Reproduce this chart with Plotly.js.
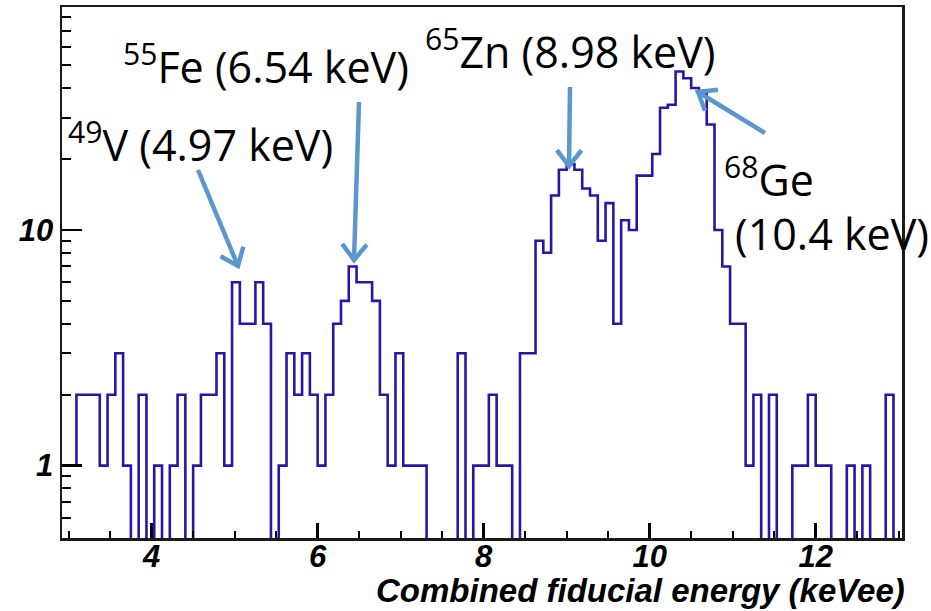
<!DOCTYPE html>
<html>
<head>
<meta charset="utf-8">
<script src="https://cdn.plot.ly/plotly-3.0.1.min.js"></script>
<style>html,body{margin:0;padding:0;background:#fff;}#chart{width:931px;height:611px;}</style>
</head>
<body>
<div id="chart"></div>
<script>
// Histogram bins (keVee): first bin low edge and constant bin width
const binStart = 2.90625;
const binWidth = 0.09375;
// Counts per bin
const counts = [1,1,
  2,2,2,1,2,3,1,0,2,0,1,0,1,2,0,1,2,2,3,1,6,4,4,6,4,0,1,3,2,3,2,
  1,2,4,5,7,6,6,5,2,1,3,1,1,1,0,0,0,0,3,0,1,1,2,1,1,0,3,3,
  9,8,14,18,19,18,15,14,9,13,4,11,10,
  17,17,21,33,34,47,44,40,38,28,10,7,
  4,4,1,2,0,2,0,0,1,1,2,1,1,0,0,1,0,1,0,0,2,0];

const xTickVals = [4, 6, 8, 10, 12];
const yTickVals = [1, 10];
const yTickText = ['1', '10'];
const yMinorVals = [0.6,0.7,0.8,0.9,2,3,4,5,6,7,8,9,20,30,40,50,60,70,80];

// Peak labels: text and arrow (tail -> tip) in pixel positions of the page
const labels = [
  {text:'<sup>49</sup>V (4.97 keV)', x:66, y:142, tail:[198,170], tip:[238,266]},
  {text:'<sup>55</sup>Fe (6.54 keV)', x:121, y:64, tail:[359,102], tip:[354,260]},
  {text:'<sup>65</sup>Zn (8.98 keV)', x:423, y:50, tail:[570,87], tip:[569,166]},
  {text:'<sup>68</sup>Ge', x:722, y:177, tail:[765,133], tip:[698,92]},
  {text:'(10.4 keV)', x:733, y:233, tail:null, tip:null}
];

const W = 931, H = 611;
const M = {l:62, r:29, t:7, b:73};
const PW = W - M.l - M.r, PH = H - M.t - M.b;
const pxX = p => (p - M.l) / PW;
const pxY = p => (H - M.b - p) / PH;

// step outline
const xs = [], ys = [];
const floor = 0.1; // zero-count bins drop below the axis floor
for (let i = 0; i < counts.length; i++) {
  xs.push(binStart + i * binWidth);
  ys.push(counts[i] > 0 ? counts[i] : floor);
}
xs.push(binStart + counts.length * binWidth);
ys.push(ys[ys.length - 1]);

const trace = {
  x: xs, y: ys, type: 'scatter', mode: 'lines',
  line: {shape: 'hv', color: '#2b14a8', width: 2.6},
  hoverinfo: 'skip', showlegend: false
};

const annotations = labels.map(l => ({
  text: l.text, xref: 'paper', yref: 'paper', x: pxX(l.x), y: pxY(l.y),
  xanchor: 'left', yanchor: 'middle', showarrow: false,
  font: {family: 'Open Sans', size: 43, color: '#000'}
}));
annotations.push({
  text: 'Combined fiducial energy (keVee)', xref: 'paper', yref: 'paper',
  x: pxX(907), y: pxY(590), xanchor: 'right', yanchor: 'middle', showarrow: false,
  font: {family: 'Liberation Sans', size: 33, weight: 'bold', style: 'italic', color: '#000'}
});

const arrowColor = '#5b96cf';
const shapes = [];
labels.forEach(l => {
  if (!l.tail) return;
  const [tx, ty] = l.tail, [hx, hy] = l.tip;
  const dx = tx - hx, dy = ty - hy, len = Math.hypot(dx, dy);
  const ux = dx / len, uy = dy / len;
  const a = 38 * Math.PI / 180, wl = 20;
  const w1 = [hx + wl * (ux * Math.cos(a) - uy * Math.sin(a)), hy + wl * (ux * Math.sin(a) + uy * Math.cos(a))];
  const w2 = [hx + wl * (ux * Math.cos(-a) - uy * Math.sin(-a)), hy + wl * (ux * Math.sin(-a) + uy * Math.cos(-a))];
  const P = p => pxX(p[0]).toFixed(5) + ',' + pxY(p[1]).toFixed(5);
  shapes.push({type: 'path', xref: 'paper', yref: 'paper',
    path: 'M' + P([tx, ty]) + ' L' + P([hx, hy]), line: {color: arrowColor, width: 4.5}});
  shapes.push({type: 'path', xref: 'paper', yref: 'paper',
    path: 'M' + P(w1) + ' L' + P([hx, hy]) + ' L' + P(w2), line: {color: arrowColor, width: 4.5}});
});

const tickFont = {family: 'Liberation Sans', size: 31, weight: 'bold', style: 'italic', color: '#000'};

const layout = {
  width: W, height: H, margin: M,
  paper_bgcolor: '#fff', plot_bgcolor: '#fff',
  showlegend: false,
  xaxis: {
    range: [2.92, 13.04], showgrid: false, zeroline: false,
    showline: true, mirror: true, linecolor: '#1a1a1a', linewidth: 2.5,
    tickmode: 'array', tickvals: xTickVals, ticks: 'inside', ticklen: 15, tickwidth: 2.5, tickcolor: '#000',
    tickfont: tickFont, ticklabelstandoff: -11,
    minor: {dtick: 0.5, ticks: 'inside', ticklen: 7, tickwidth: 2, tickcolor: '#000', showgrid: false}
  },
  yaxis: {
    type: 'log', range: [-0.307, 1.946], showgrid: false, zeroline: false,
    showline: true, mirror: true, linecolor: '#1a1a1a', linewidth: 2.5,
    tickmode: 'array', tickvals: yTickVals, ticktext: yTickText,
    ticks: 'inside', ticklen: 20, tickwidth: 2.5, tickcolor: '#000',
    tickfont: tickFont,
    minor: {tickmode: 'array', tickvals: yMinorVals, ticks: 'inside', ticklen: 9, tickwidth: 2, tickcolor: '#000', showgrid: false}
  },
  annotations: annotations,
  shapes: shapes
};

Plotly.newPlot('chart', [trace], layout, {staticPlot: true, displayModeBar: false});
</script>
</body>
</html>
